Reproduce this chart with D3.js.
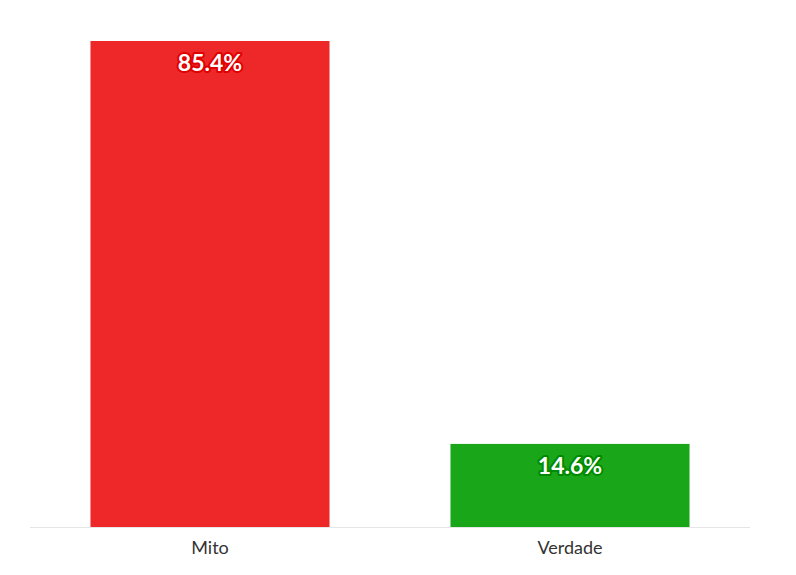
<!DOCTYPE html><html><head><meta charset="utf-8"><script src="https://cdn.jsdelivr.net/npm/d3@7"></script>
<style>body{margin:0;background:#fff}</style></head><body><svg id="c" width="796" height="575"></svg>
<script>
const categories=["Mito","Verdade"];
const values=[85.4,14.6];
const colors=["#ee2828","#1aa619"];
const strokes=["#e00000","#008a00"];
const svg=d3.select("#c");
const x=d3.scaleBand().domain(categories).range([30,750]).paddingInner(0.336).paddingOuter(0.168);
const y=d3.scaleLinear().domain([0,85.4]).range([527,41]);
svg.selectAll("rect").data(values).join("rect")
 .attr("x",(d,i)=>x(categories[i])).attr("width",x.bandwidth())
 .attr("y",d=>y(d)).attr("height",d=>527-y(d)).attr("fill",(d,i)=>colors[i]);
svg.append("line").attr("x1",30).attr("x2",750).attr("y1",527.5).attr("y2",527.5).attr("stroke","#e6e6e6");
svg.selectAll("text.cat").data(categories).join("text").attr("class","cat")
 .attr("x",d=>x(d)+x.bandwidth()/2).attr("y",554).attr("text-anchor","middle")
 .attr("font-family","Source Sans Pro, Lato, sans-serif").attr("font-size",18).attr("fill","#333").text(d=>d);
svg.selectAll("text.lab").data(values).join("text").attr("class","lab")
 .attr("x",(d,i)=>x(categories[i])+x.bandwidth()/2).attr("y",d=>y(d)+30).attr("text-anchor","middle")
 .attr("font-family","Lato, sans-serif").attr("font-weight","bold").attr("font-size",23)
 .attr("fill","#fff").attr("stroke",(d,i)=>strokes[i]).attr("stroke-width",4).attr("paint-order","stroke")
 .attr("stroke-linejoin","round").text(d=>d.toFixed(1)+"%");
</script></body></html>
